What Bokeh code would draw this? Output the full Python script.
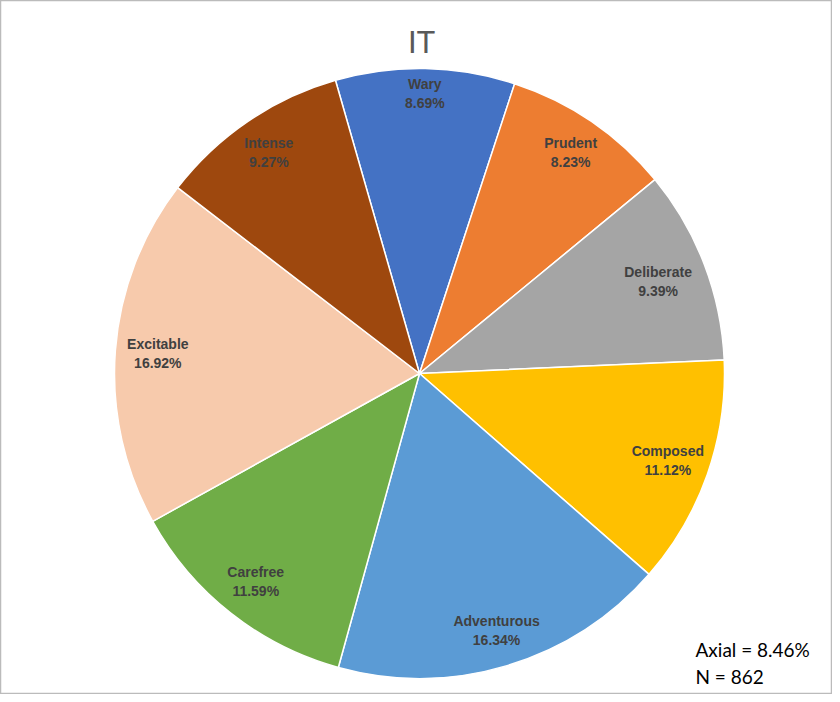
import numpy as np
from bokeh.plotting import figure
from bokeh.models import ColumnDataSource, Range1d, Label
from bokeh.core.properties import value
from bokeh.embed import file_html
from bokeh.resources import INLINE

# ---- data ----
categories = ["Wary", "Prudent", "Deliberate", "Composed", "Adventurous",
              "Carefree", "Excitable", "Intense"]
percents = [8.69, 8.23, 9.39, 11.12, 16.34, 11.59, 16.92, 9.27]
colors = ["#4472C4", "#ED7D31", "#A5A5A5", "#FFC000", "#5B9BD5",
          "#70AD47", "#F7CAAC", "#9E480E"]
title_text = "IT"
note_lines = ["Axial = 8.46%", "N = 862"]

# ---- geometry ----
W, H = 832, 694
R = 305
first_angle = np.deg2rad(106.0)   # start of first slice (counter-clockwise from +x)
FS = 14
LINE = 19
LABEL_FONT = "Liberation Sans"
FONT = "Lato"

vals = np.array(percents)
frac = vals / vals.sum()
cum = np.concatenate([[0], np.cumsum(frac)]) * 2 * np.pi
end_ang = first_angle - cum[:-1]
start_ang = first_angle - cum[1:]
mid = (start_ang + end_ang) / 2

pct_text = [f"{v:.2f}%" for v in percents]
# inside-end label placement
hw = np.array([max(len(c), len(t)) * 0.56 * FS / 2 for c, t in zip(categories, pct_text)])
hh = 19.0
pad = 6
rl = R - pad - (np.abs(np.cos(mid)) * hw + np.abs(np.sin(mid)) * hh)
lx = rl * np.cos(mid)
ly = rl * np.sin(mid)

src = ColumnDataSource(dict(start=start_ang, end=end_ang, color=colors,
                            lx=lx, ly=ly, name=categories, pct=pct_text))

p = figure(width=W, height=H, output_backend="svg", toolbar_location=None,
           x_range=Range1d(8 - 427, 840 - 427), y_range=Range1d(381 - 702, 381 - 8),
           min_border=0)
p.axis.visible = False
p.grid.visible = False
p.outline_line_color = "#BBBBBB"
p.outline_line_width = 1.5
p.background_fill_color = "white"
p.border_fill_color = "white"

p.wedge(x=0, y=0, radius=R, start_angle="start", end_angle="end",
        fill_color="color", line_color="white", line_width=1.5, source=src)

common = dict(source=src, text_align="center", text_baseline="middle",
              text_font_size=value(f"{FS}px"), text_font_style="bold",
              text_color="#404040", text_font=value(LABEL_FONT))
p.text(x="lx", y="ly", text="name", y_offset=-LINE / 2, **common)
p.text(x="lx", y="ly", text="pct", y_offset=LINE / 2, **common)

p.add_layout(Label(x=2, y=333, text=title_text, text_align="center",
                   text_baseline="alphabetic", text_font_size="31px",
                   text_color="#595959", text_font=FONT))
p.add_layout(Label(x=276, y=-276, text=note_lines[0], text_align="left",
                   text_baseline="alphabetic", text_font_size="19px",
                   text_color="#000000", text_font=FONT))
p.add_layout(Label(x=276, y=-303, text=note_lines[1], text_align="left",
                   text_baseline="alphabetic", text_font_size="19px",
                   text_color="#000000", text_font=FONT))

open("out.html", "w").write(file_html(p, INLINE))
